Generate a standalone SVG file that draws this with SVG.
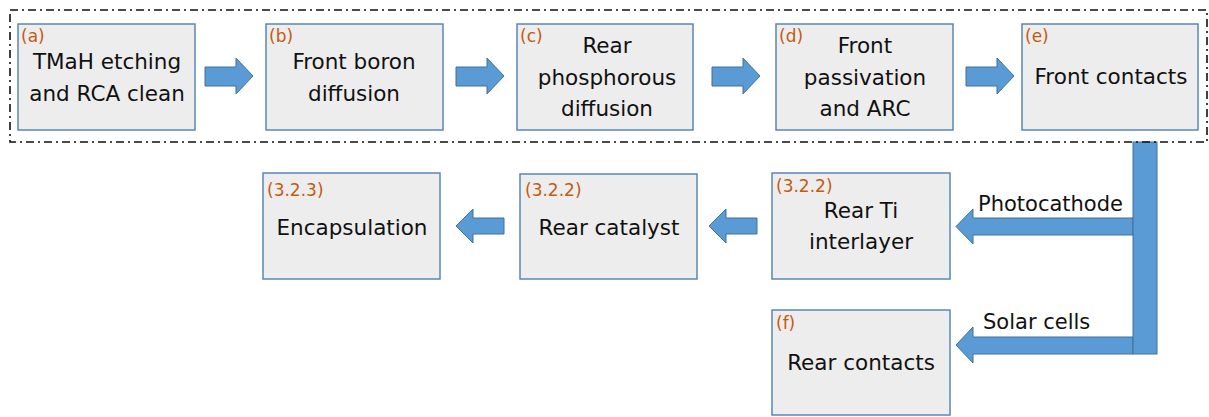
<svg xmlns="http://www.w3.org/2000/svg" width="1209" height="417" viewBox="0 0 1209 417">
<style>
.box{fill:#EDEDED;stroke:#5B87B8;stroke-width:1.5}
.t{font-family:"DejaVu Sans","Liberation Sans",Arial,sans-serif;font-size:21.5px;fill:#111;text-anchor:middle}
.lab{font-family:"DejaVu Sans","Liberation Sans",Arial,sans-serif;font-size:17px;fill:#C55A11}
.arr{fill:#5B9BD5;stroke:#41719C;stroke-width:1}
.cl{font-family:"DejaVu Sans","Liberation Sans",Arial,sans-serif;font-size:21px;fill:#111}
</style>
<rect width="1209" height="417" fill="#fff"/>
<g id="connectors">
<polygon class="arr" points="205,67 236,67 236,58 253,76 236,94 236,86 205,86"/>
<polygon class="arr" points="456,67 487,67 487,58 504,76 487,94 487,86 456,86"/>
<polygon class="arr" points="712,67 743,67 743,58 760,76 743,94 743,86 712,86"/>
<polygon class="arr" points="966,67 997,67 997,58 1014,76 997,94 997,86 966,86"/>
<polygon class="arr" points="504,218 473,218 473,209 456,226 473,243 473,234 504,234"/>
<polygon class="arr" points="757,218 726,218 726,209 709,226 726,243 726,234 757,234"/>
<polygon class="arr" points="1133,218 973,218 973,209 956,226.5 973,244 973,235 1133,235"/>
<polygon class="arr" points="1133,337 973,337 973,327 956,345 973,363 973,354 1133,354"/>
<rect class="arr" x="1133" y="142" width="24" height="212"/>
<text class="cl" x="978" y="211">Photocathode</text>
<text class="cl" x="983" y="329">Solar cells</text>
</g>
<g id="group-border">
<rect x="10" y="10" width="1197" height="132" fill="none" stroke="#111" stroke-width="1.6" stroke-dasharray="8 4 2 4"/>
</g>
<g id="node-a">
<rect class="box" x="18" y="24" width="177" height="106"/>
<text class="lab" x="21" y="42">(a)</text>
<text class="t" x="107" y="69">TMaH etching</text>
<text class="t" x="107" y="101">and RCA clean</text>
</g>
<g id="node-b">
<rect class="box" x="266" y="24" width="177" height="106"/>
<text class="lab" x="269" y="42">(b)</text>
<text class="t" x="354" y="69">Front boron</text>
<text class="t" x="354" y="101">diffusion</text>
</g>
<g id="node-c">
<rect class="box" x="517" y="24" width="176" height="106"/>
<text class="lab" x="520" y="42">(c)</text>
<text class="t" x="607" y="53">Rear</text>
<text class="t" x="607" y="85">phosphorous</text>
<text class="t" x="607" y="116">diffusion</text>
</g>
<g id="node-d">
<rect class="box" x="776" y="24" width="177" height="106"/>
<text class="lab" x="779" y="42">(d)</text>
<text class="t" x="865" y="53">Front</text>
<text class="t" x="865" y="85">passivation</text>
<text class="t" x="865" y="116">and ARC</text>
</g>
<g id="node-e">
<rect class="box" x="1022" y="24" width="176" height="106"/>
<text class="lab" x="1025" y="42">(e)</text>
<text class="t" x="1111" y="84">Front contacts</text>
</g>
<g id="node-encapsulation">
<rect class="box" x="263" y="173" width="177" height="106"/>
<text class="lab" x="267" y="196">(3.2.3)</text>
<text class="t" x="352" y="235">Encapsulation</text>
</g>
<g id="node-catalyst">
<rect class="box" x="520" y="174" width="177" height="105"/>
<text class="lab" x="525" y="196">(3.2.2)</text>
<text class="t" x="609" y="235">Rear catalyst</text>
</g>
<g id="node-ti">
<rect class="box" x="772" y="173" width="178" height="106"/>
<text class="lab" x="776" y="192">(3.2.2)</text>
<text class="t" x="861" y="218">Rear Ti</text>
<text class="t" x="861" y="249">interlayer</text>
</g>
<g id="node-f">
<rect class="box" x="772" y="310" width="178" height="105"/>
<text class="lab" x="776" y="329">(f)</text>
<text class="t" x="861" y="370">Rear contacts</text>
</g>
</svg>
